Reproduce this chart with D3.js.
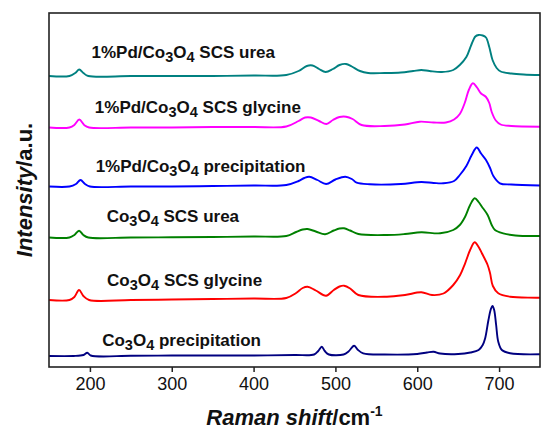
<!DOCTYPE html>
<html>
<head>
<meta charset="utf-8">
<script src="https://cdn.jsdelivr.net/npm/d3@7"></script>
<style>
  body { margin: 0; background: #fff; }
  svg { display: block; font-family: Arial, "Liberation Sans", sans-serif; }
</style>
</head>
<body>
<div id="chart"></div>
<script>
// Raman spectra, [Raman shift (cm-1), intensity (a.u., stacked offset included)]
const pdUrea = [
  [150, 291], [175, 291], [182, 294], [187, 297.5], [192, 294], [198, 291], [250, 291], [300, 291],
  [350, 291], [400, 291.5], [440, 292], [455, 296], [465, 301], [472, 301.5], [480, 298], [488, 295],
  [497, 298], [505, 302], [513, 303], [520, 300.5], [530, 296], [540, 294], [560, 294], [580, 294.5],
  [595, 296], [605, 297], [615, 296], [630, 295], [644, 297], [652, 302], [660, 310], [666, 322],
  [671, 330.5], [675, 332], [680, 331.5], [684, 329.5], [688, 320], [692, 307], [697, 299],
  [702, 295.5], [715, 293.5], [730, 292.5], [750, 292]
];
const pdGlycine = [
  [150, 239.5], [175, 239.5], [181, 242], [187, 247.5], [193, 242], [199, 239.5], [250, 239.5],
  [300, 239.5], [350, 240], [400, 240], [440, 240.5], [455, 246], [463, 249.5], [470, 249.5],
  [480, 246], [489, 243], [497, 247], [505, 250], [513, 250.3], [521, 248], [532, 242], [560, 241],
  [585, 242.5], [603, 245.3], [620, 244.5], [635, 244.5], [645, 247.5], [652, 253], [658, 264],
  [663, 277], [668, 283.7], [673, 279.5], [678, 273.5], [684, 270], [688, 264], [691, 255],
  [696, 246.5], [702, 242.5], [715, 241], [750, 240.3]
];
const pdPrecip = [
  [150, 180.5], [175, 180.5], [183, 183], [188.5, 187], [194, 183], [200, 180.5], [250, 180.5],
  [300, 180.5], [350, 181], [400, 181.5], [440, 182], [455, 186], [462, 189], [468, 190.3],
  [478, 187], [488.6, 183], [500, 187.5], [512, 190.3], [520, 188], [526, 184.3], [542, 182.7],
  [580, 183], [605, 185], [620, 184], [632, 183.7], [645, 186], [652, 192], [660, 201], [666.6, 212],
  [672.7, 219.5], [678, 213.5], [684, 207], [689, 199], [693, 191], [701, 183.7], [715, 182.5],
  [750, 181.5]
];
const scsUrea = [
  [150, 129.5], [175, 129.5], [181, 132], [186.7, 136.3], [192, 132], [198, 129.5], [250, 129.5],
  [300, 129.7], [350, 130], [400, 130.5], [440, 131], [452, 135], [460, 137.5], [466, 138],
  [476, 135.5], [487.4, 132.7], [498, 136.5], [505, 138.5], [510.6, 138.7], [518, 136.5], [528, 133],
  [563, 132], [585, 133], [605, 134.7], [628, 133.7], [644, 137], [652, 142], [658.5, 150.3],
  [664.6, 162], [670.2, 168.7], [675, 165], [679, 160.3], [686, 152], [691, 142], [695, 137],
  [705, 133.7], [720, 131.5], [750, 131]
];
const scsGlycine = [
  [150, 67], [175, 67], [181, 70], [186.7, 77], [192, 71], [199, 67], [250, 67], [300, 67.5],
  [350, 68], [400, 68.5], [440, 69], [452, 74], [460, 79], [466, 80.3], [476, 76.5], [488.6, 71.3],
  [498, 77], [505, 80.5], [510.6, 81.3], [518, 78.5], [528, 72], [563, 70.3], [585, 72], [605, 74.7],
  [618, 72], [632, 73.5], [644, 82], [652.4, 92], [658.5, 103.7], [664.6, 117], [670.2, 124.7],
  [675, 120], [679, 113.7], [686, 102], [689, 93.7], [692.4, 81], [699, 73.7], [713.5, 70.3],
  [750, 69.3]
];
const precip = [
  [150, 11], [180, 11], [192, 12], [196.8, 14.3], [201, 11.5], [250, 11.2], [300, 11.5], [350, 11.5],
  [400, 11.5], [450, 12], [474, 12.5], [479, 16], [483.3, 20.3], [487, 16], [492, 12.5], [510, 12.5],
  [516, 15.5], [522.8, 21.3], [527, 17.5], [534, 13.7], [560, 12.5], [600, 13], [612, 14.5],
  [620, 15.3], [628, 13.5], [650, 13], [665, 14.5], [675, 17], [680, 22], [683, 28.7], [687, 47],
  [690, 58], [692, 61], [694, 57], [696.4, 42], [699, 25.3], [703.4, 17], [713.5, 13.7], [750, 12.7]
];

// series labels, top to bottom ("_n" = subscript n)
const labels = [
  '1%Pd/Co_3O_4 SCS urea',
  '1%Pd/Co_3O_4 SCS glycine',
  '1%Pd/Co_3O_4 precipitation',
  'Co_3O_4 SCS urea',
  'Co_3O_4 SCS glycine',
  'Co_3O_4 precipitation'
];
const xTicks = [200, 300, 400, 500, 600, 700];

function drawChart() {
  const W = 541, H = 430;
  const margin = { top: 13, right: 1, bottom: 63, left: 49 };
  const width = W - margin.left - margin.right;
  const height = H - margin.top - margin.bottom;

  const svg = d3.select('#chart').append('svg')
    .attr('width', W)
    .attr('height', H);

  const g = svg.append('g')
    .attr('transform', `translate(${margin.left},${margin.top})`);

  const x = d3.scaleLinear().domain([150, 750]).range([0, width]);
  const y = d3.scaleLinear().domain([0, 354]).range([height, 0]);

  const series = [
    { data: pdUrea, color: '#008080' },
    { data: pdGlycine, color: '#ff00ff' },
    { data: pdPrecip, color: '#0000ff' },
    { data: scsUrea, color: '#008000' },
    { data: scsGlycine, color: '#ff0000' },
    { data: precip, color: '#000080' }
  ];

  const line = d3.line()
    .x(d => x(d[0]))
    .y(d => y(d[1]))
    .curve(d3.curveCatmullRom.alpha(0.5));

  g.selectAll('.spectrum')
    .data(series)
    .enter()
    .append('path')
    .attr('class', 'spectrum')
    .attr('d', d => line(d.data))
    .attr('fill', 'none')
    .attr('stroke', d => d.color)
    .attr('stroke-width', 1.9)
    .attr('stroke-linejoin', 'round');

  // label anchors: [Raman shift, intensity] of text start / baseline
  const labelPos = [[202, 308.7], [206, 253.7], [207, 195.3], [220.5, 145], [221, 81.3], [215, 21]];

  labels.forEach((txt, i) => {
    const t = g.append('text')
      .attr('x', x(labelPos[i][0]))
      .attr('y', y(labelPos[i][1]))
      .style('font-size', '17px')
      .style('font-weight', 'bold')
      .attr('fill', '#111');
    let shift = 0;
    txt.split(/(_\d)/).filter(s => s.length).forEach(part => {
      if (part[0] === '_') {
        t.append('tspan').attr('dy', 4 - shift).style('font-size', '14.5px').text(part.slice(1));
        shift = 4;
      } else {
        t.append('tspan').attr('dy', -shift).text(part);
        shift = 0;
      }
    });
  });

  // x axis
  const xAxis = g.append('g')
    .attr('transform', `translate(0,${height})`)
    .call(d3.axisBottom(x).tickValues(xTicks).tickSize(5).tickSizeOuter(0).tickPadding(5));
  xAxis.select('.domain').remove();
  xAxis.selectAll('line').attr('stroke', '#222').attr('stroke-width', 1.5);
  xAxis.selectAll('text')
    .attr('fill', '#111')
    .style('font-size', '18px')
    .style('font-family', 'Arial, "Liberation Sans", sans-serif');

  // frame
  g.append('rect')
    .attr('x', 0)
    .attr('y', 0)
    .attr('width', width)
    .attr('height', height)
    .attr('fill', 'none')
    .attr('stroke', '#222')
    .attr('stroke-width', 1.6);

  // axis titles
  const xt = svg.append('text')
    .attr('x', margin.left + width / 2)
    .attr('y', 425)
    .attr('text-anchor', 'middle')
    .style('font-size', '22px')
    .style('font-weight', 'bold')
    .attr('fill', '#111');
  xt.append('tspan').style('font-style', 'italic').text('Raman shift');
  xt.append('tspan').text('/cm');
  xt.append('tspan').attr('dy', -9).style('font-size', '14px').text('-1');

  const yt = svg.append('text')
    .attr('transform', `translate(32,${margin.top + height / 2}) rotate(-90)`)
    .attr('text-anchor', 'middle')
    .style('font-size', '22px')
    .style('font-weight', 'bold')
    .attr('fill', '#111');
  yt.append('tspan').style('font-style', 'italic').text('Intensity');
  yt.append('tspan').text('/a.u.');
}

drawChart();
</script>
</body>
</html>
